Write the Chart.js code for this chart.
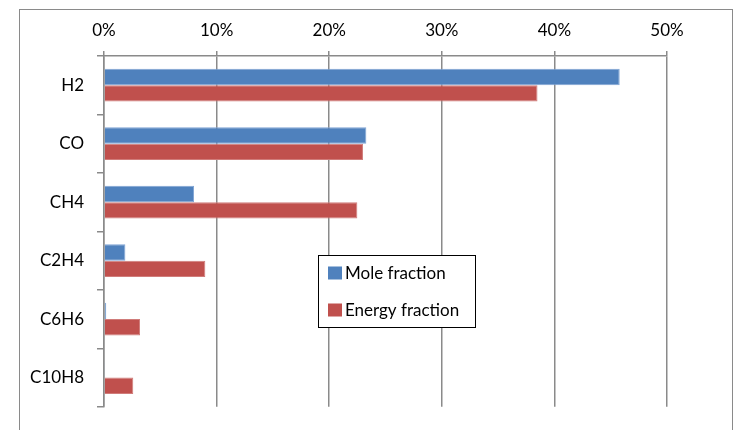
<!DOCTYPE html>
<html>
<head>
<meta charset="utf-8">
<style>
  html, body { margin: 0; padding: 0; background: #ffffff; }
  #wrap { width: 735px; height: 430px; position: relative; }
  canvas { display: block; }
</style>
<script src="https://cdn.jsdelivr.net/npm/chart.js@4/dist/chart.umd.min.js"></script>
</head>
<body>
<div id="wrap"><canvas id="chart" width="735" height="430"></canvas></div>
<script>
// Gas species and their share of the product gas (percent)
const categories = ['H2', 'CO', 'CH4', 'C2H4', 'C6H6', 'C10H8'];
const moleFraction = [45.8, 23.3, 8.0, 1.9, 0.2, 0.05];
const energyFraction = [38.5, 23.0, 22.5, 9.0, 3.2, 2.6];
const seriesNames = ['Mole fraction', 'Energy fraction'];
const seriesColors = ['#4F81BD', '#C0504D'];
const seriesEdges = ['#7fa4d4', '#d07c7a'];
const axisMin = 0, axisMax = 50, axisStep = 10;

const FONT = 'Lato, "Liberation Sans", sans-serif';
const GRID = '#8a8a8a';

// Outer frame around the whole chart
const framePlugin = {
  id: 'frame',
  beforeDraw(chart) {
    const ctx = chart.ctx;
    ctx.save();
    ctx.fillStyle = '#ffffff';
    ctx.fillRect(0, 0, chart.width, chart.height);
    ctx.strokeStyle = GRID;
    ctx.lineWidth = 1;
    ctx.strokeRect(19.5, 9.5, 713, 440);
    ctx.restore();
  }
};

// Boxed legend placed inside the plot area
const boxLegendPlugin = {
  id: 'boxLegend',
  afterDraw(chart) {
    const ctx = chart.ctx;
    const x = 318.5, y = 255.5, w = 157, h = 72;
    ctx.save();
    ctx.fillStyle = '#ffffff';
    ctx.fillRect(x, y, w, h);
    ctx.strokeStyle = '#000000';
    ctx.lineWidth = 1;
    ctx.strokeRect(x, y, w, h);
    ctx.font = '17px ' + FONT;
    ctx.textBaseline = 'middle';
    ctx.textAlign = 'left';
    chart.data.datasets.forEach((ds, i) => {
      const rowY = 273.5 + i * 37;
      ctx.fillStyle = ds.backgroundColor;
      ctx.fillRect(328, rowY - 7, 14, 13);
      ctx.fillStyle = '#000000';
      ctx.fillText(ds.label, 345, rowY);
    });
    ctx.restore();
  }
};

new Chart(document.getElementById('chart'), {
  type: 'bar',
  data: {
    labels: categories,
    datasets: [
      {
        label: seriesNames[0],
        data: moleFraction,
        backgroundColor: seriesColors[0],
        borderColor: seriesEdges[0],
        borderWidth: 1,
        categoryPercentage: 0.56,
        barPercentage: 1.0
      },
      {
        label: seriesNames[1],
        data: energyFraction,
        backgroundColor: seriesColors[1],
        borderColor: seriesEdges[1],
        borderWidth: 1,
        categoryPercentage: 0.56,
        barPercentage: 1.0
      }
    ]
  },
  options: {
    indexAxis: 'y',
    responsive: false,
    animation: false,
    devicePixelRatio: 1,
    layout: { padding: { left: 0, right: 68, top: 0, bottom: 18 } },
    plugins: {
      legend: { display: false },
      tooltip: { enabled: false }
    },
    scales: {
      x: {
        position: 'top',
        min: axisMin,
        max: axisMax,
        ticks: {
          stepSize: axisStep,
          callback: v => v + '%',
          color: '#000000',
          font: { family: FONT, size: 17 },
          padding: 10
        },
        grid: {
          color: GRID,
          lineWidth: 1.5,
          tickLength: 5,
          drawOnChartArea: true
        },
        border: { display: true, color: GRID, width: 1.5 },
        afterFit(scale) { scale.height = 56; }
      },
      y: {
        ticks: {
          color: '#000000',
          font: { family: FONT, size: 17 },
          padding: 13
        },
        grid: {
          offset: true,
          drawOnChartArea: false,
          color: GRID,
          lineWidth: 1.5,
          tickLength: 7
        },
        border: { display: true, color: GRID, width: 1.5 },
        afterFit(scale) { scale.width = 104; }
      }
    }
  },
  plugins: [framePlugin, boxLegendPlugin]
});
</script>
</body>
</html>
